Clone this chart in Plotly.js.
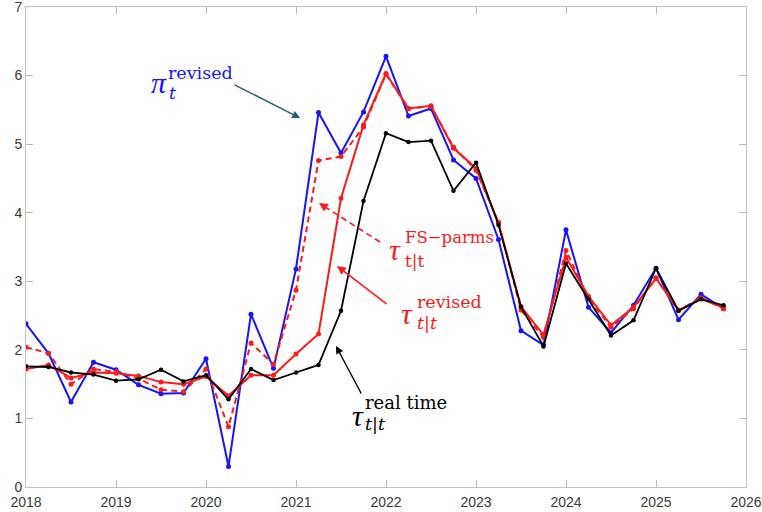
<!DOCTYPE html>
<html>
<head>
<meta charset="utf-8">
<script src="https://cdn.plot.ly/plotly-3.0.1.min.js"></script>
<style>html,body{margin:0;padding:0;background:#fff;}#chart{width:762px;height:512px;}</style>
</head>
<body>
<div id="chart"></div>
<script>
// Quarterly dates, 2018Q1 .. 2025Q4 (as decimal years)
const quarters = [
  2018.00, 2018.25, 2018.50, 2018.75,
  2019.00, 2019.25, 2019.50, 2019.75,
  2020.00, 2020.25, 2020.50, 2020.75,
  2021.00, 2021.25, 2021.50, 2021.75,
  2022.00, 2022.25, 2022.50, 2022.75,
  2023.00, 2023.25, 2023.50, 2023.75,
  2024.00, 2024.25, 2024.50, 2024.75,
  2025.00, 2025.25, 2025.50, 2025.75
];

// pi_t revised (blue)
const piRevised = [
  2.38, 1.95, 1.24, 1.82,
  1.71, 1.49, 1.36, 1.37,
  1.87, 0.30, 2.52, 1.73,
  3.18, 5.46, 4.87, 5.47,
  6.28, 5.41, 5.52, 4.77,
  4.50, 3.61, 2.28, 2.07,
  3.75, 2.62, 2.25, 2.65,
  3.19, 2.44, 2.81, 2.60
];

// tau_{t|t} FS-parms (red dashed)
const tauFS = [
  2.04, 1.95, 1.50, 1.72,
  1.68, 1.58, 1.42, 1.39,
  1.72, 0.88, 2.10, 1.79,
  2.87, 4.76, 4.82, 5.25,
  6.02, 5.52, 5.55, 4.96,
  4.62, 3.86, 2.58, 2.18,
  3.45, 2.75, 2.33, 2.60,
  3.05, 2.57, 2.76, 2.60
];

// tau_{t|t} revised (red solid)
const tauRevised = [
  1.72, 1.78, 1.59, 1.67,
  1.66, 1.62, 1.53, 1.50,
  1.61, 1.33, 1.63, 1.63,
  1.94, 2.23, 4.21, 5.28,
  6.03, 5.52, 5.56, 4.94,
  4.65, 3.85, 2.63, 2.22,
  3.35, 2.78, 2.36, 2.62,
  3.04, 2.58, 2.74, 2.62
];

// tau_{t|t} real time (black)
const tauRealTime = [
  1.76, 1.75, 1.67, 1.64,
  1.55, 1.57, 1.71, 1.54,
  1.63, 1.28, 1.72, 1.56,
  1.67, 1.78, 2.57, 4.17,
  5.16, 5.03, 5.05, 4.32,
  4.73, 3.82, 2.63, 2.05,
  3.26, 2.74, 2.21, 2.43,
  3.19, 2.57, 2.74, 2.65
];

const xTicks = [2018, 2019, 2020, 2021, 2022, 2023, 2024, 2025, 2026];
const yTicks = [0, 1, 2, 3, 4, 5, 6, 7];

const BLUE = '#1414ff', RED = '#ff1a1a', BLACK = '#000000', TEAL = '#245f78';

const traces = [
  {x: quarters, y: piRevised, mode: 'lines+markers', line: {color: BLUE, width: 2}, marker: {color: BLUE, size: 5}},
  {x: quarters, y: tauFS, mode: 'lines+markers', line: {color: RED, width: 2, dash: '6px,4px'}, marker: {color: RED, size: 5}},
  {x: quarters, y: tauRevised, mode: 'lines+markers', line: {color: RED, width: 2}, marker: {color: RED, size: 5}},
  {x: quarters, y: tauRealTime, mode: 'lines+markers', line: {color: BLACK, width: 1.8}, marker: {color: BLACK, size: 4.5}}
];

// plot-area geometry helpers (pixel -> data) for annotation placement
const L = 26, R = 746, T = 7, B = 487;
const px = p => 2018 + (p - L) * 8 / (R - L);
const py = p => (B - p) * 7 / (B - T);

const serif = 'DejaVu Serif';
const greek = 'Liberation Serif';
function txt(text, xp, yp, size, color, italic, fam) {
  return {text: italic ? '<i>' + text + '</i>' : text, x: px(xp), y: py(yp), xref: 'x', yref: 'y',
    xanchor: 'left', yanchor: 'middle', showarrow: false, borderpad: 0,
    font: {family: fam || serif, size: size, color: color}};
}
function arrow(x0, y0, x1, y1, color, width) {
  return {text: '', x: px(x1), y: py(y1), ax: px(x0), ay: py(y0), xref: 'x', yref: 'y', axref: 'x', ayref: 'y',
    showarrow: true, arrowhead: 2, arrowsize: 1.1, arrowwidth: width, arrowcolor: color, standoff: 0};
}
function headOnly(x0, y0, x1, y1, color, width) {
  const dx = x0 - x1, dy = y0 - y1, n = Math.hypot(dx, dy);
  return {text: '', x: px(x1), y: py(y1), ax: dx / n * 9, ay: dy / n * 9, xref: 'x', yref: 'y',
    showarrow: true, arrowhead: 2, arrowsize: 1.1, arrowwidth: width, arrowcolor: color, standoff: 0};
}

const annotations = [
  // pi_t^revised
  txt('π', 150, 82, 30, BLUE, true, greek),
  txt('t', 168, 93, 17.5, BLUE, true),
  txt('revised', 167, 73, 17.5, BLUE, false),
  arrow(233, 84, 300, 118, TEAL, 1.4),
  // tau FS-parms
  txt('τ', 388, 249, 30, RED, true, greek),
  txt('t|t', 404, 261, 17, RED, false),
  txt('FS−parms', 404, 237, 16.5, RED, false),
  headOnly(380, 242, 319, 203, RED, 1.6),
  // tau revised
  txt('τ', 400, 313, 30, RED, true, greek),
  txt('t|t', 416, 323, 17.5, RED, true),
  txt('revised', 416, 302, 17.5, RED, false),
  arrow(388, 305, 337, 266, RED, 1.6),
  // tau real time
  txt('τ', 351, 415, 30, BLACK, true, greek),
  txt('t|t', 364, 424, 17.5, BLACK, true),
  txt('real time', 364, 402, 18, BLACK, false),
  arrow(362, 395, 336, 346, BLACK, 1.4)
];

const shapes = [
  {type: 'line', xref: 'x', yref: 'y', x0: px(380), y0: py(242), x1: px(322), y1: py(205),
   line: {color: RED, width: 1.6, dash: '6px,4px'}}
];

const axisCommon = {
  showgrid: false, zeroline: false, showline: true, linecolor: '#c4c4c4', linewidth: 1,
  mirror: 'ticks', ticks: 'inside', ticklen: 7, tickcolor: '#b8b8b8', tickwidth: 1,
  ticklabeloverflow: 'allow',
  tickfont: {family: 'Liberation Sans, Arial, sans-serif', size: 14, color: '#3a3a3a'}
};

const layout = {
  width: 762, height: 512,
  margin: {l: L, r: 762 - R, t: T, b: 512 - B},
  paper_bgcolor: '#fff', plot_bgcolor: '#fff',
  showlegend: false,
  xaxis: Object.assign({}, axisCommon, {range: [2018, 2026], tickmode: 'array', tickvals: xTicks,
    ticktext: xTicks.map(String), ticklabelstandoff: 2}),
  yaxis: Object.assign({}, axisCommon, {range: [0, 7], tickmode: 'array', tickvals: yTicks,
    ticktext: yTicks.map(String), ticklabelstandoff: 0}),
  annotations: annotations,
  shapes: shapes
};

Plotly.newPlot('chart', traces, layout, {displayModeBar: false, staticPlot: true});
</script>
</body>
</html>
